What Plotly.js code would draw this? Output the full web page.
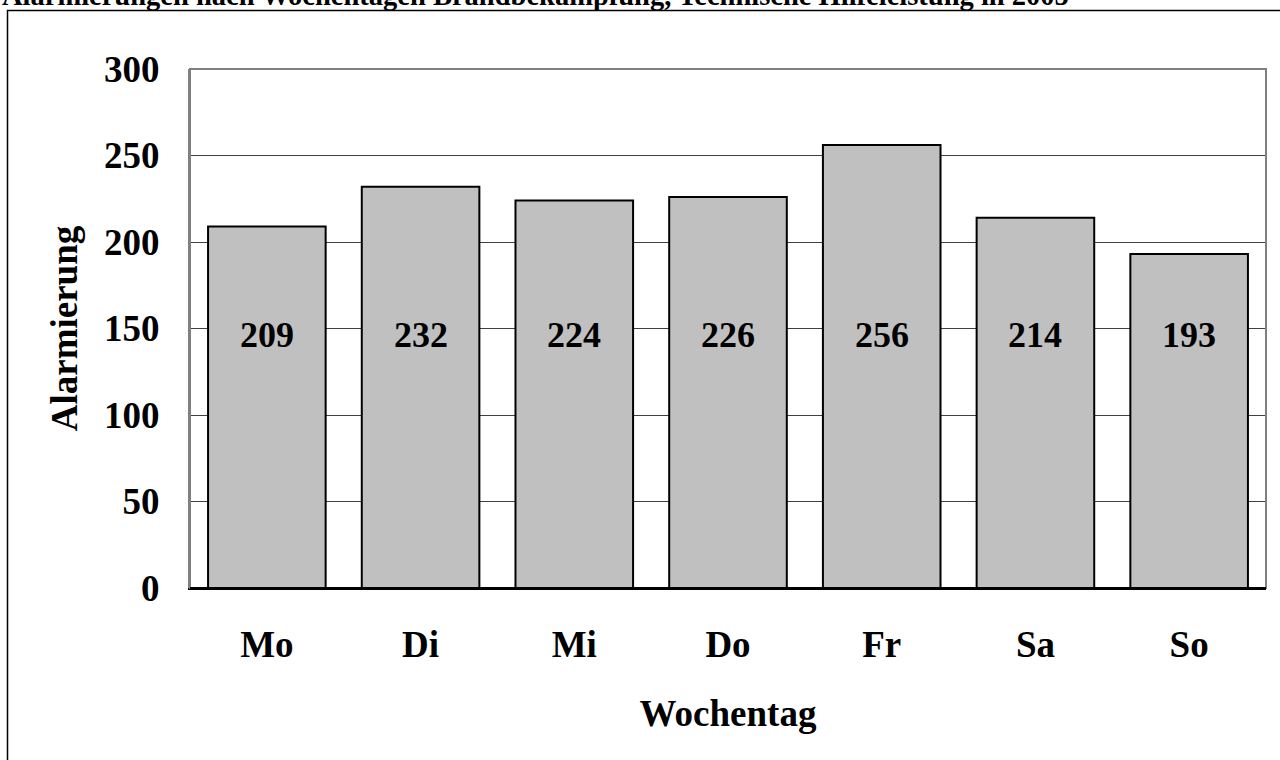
<!DOCTYPE html>
<html>
<head>
<meta charset="utf-8">
<script src="https://cdn.plot.ly/plotly-3.0.1.min.js"></script>
<style>
html,body{margin:0;padding:0;background:#fff;}
#chart{width:1280px;height:760px;}
</style>
</head>
<body>
<div id="chart"></div>
<script>
var days = ["Mo", "Di", "Mi", "Do", "Fr", "Sa", "So"];
var alarms = [209, 232, 224, 226, 256, 214, 193];
var yTicks = [0, 50, 100, 150, 200, 250, 300];
var chartTitle = "Alarmierungen nach Wochentagen Brandbekämpfung, Technische Hilfeleistung in 2005";
var xTitle = "Wochentag";
var yTitle = "Alarmierung";

var FONT = "'Liberation Serif', 'Times New Roman', serif";

var L = 190, R = 14, T = 69, B = 172, W = 1280, H = 760;
var pw = W - L - R, ph = H - T - B;
function px2x(p) { return (p - L) / pw; }
function py2y(p) { return (H - B - p) / ph; }

var trace = {
  type: "bar",
  x: days,
  y: alarms,
  marker: { color: "#C0C0C0", line: { color: "#000000", width: 2 } },
  hoverinfo: "x+y"
};

var annotations = days.map(function (d, i) {
  return {
    x: d, y: 146, xref: "x", yref: "y",
    text: "<b>" + alarms[i] + "</b>",
    showarrow: false,
    font: { family: FONT, size: 36, color: "#000" },
    xanchor: "center", yanchor: "middle"
  };
});
annotations.push({
  xref: "paper", yref: "paper",
  x: px2x(0), y: py2y(13),
  xanchor: "left", yanchor: "bottom",
  text: "<b>" + chartTitle + "</b>",
  showarrow: false,
  font: { family: FONT, size: 28.5, color: "#000" }
});

var layout = {
  width: W, height: H,
  margin: { l: L, r: R, t: T, b: B, pad: 0 },
  paper_bgcolor: "#ffffff",
  plot_bgcolor: "#ffffff",
  showlegend: false,
  bargap: 0.235,
  font: { family: FONT, color: "#000" },
  xaxis: {
    type: "category",
    showline: true, linecolor: "#000", linewidth: 2,
    ticks: "", ticklabelstandoff: 23,
    tickfont: { family: FONT, size: 37, color: "#000", weight: "bold" },
    title: { text: "<b>" + xTitle + "</b>", font: { family: FONT, size: 37, color: "#000" }, standoff: 36 },
    fixedrange: true
  },
  yaxis: {
    range: [0, 300],
    tickvals: yTicks,
    ticktext: yTicks.map(function (v) { return "<b>" + v + "</b>"; }),
    showgrid: true, gridcolor: "#404040", gridwidth: 1,
    showline: true, linecolor: "#808080", linewidth: 2,
    zeroline: false,
    ticks: "", ticklabelstandoff: 21,
    tickfont: { family: FONT, size: 37, color: "#000" },
    title: { text: "<b>" + yTitle + "</b>", font: { family: FONT, size: 37, color: "#000" }, standoff: 15 },
    fixedrange: true
  },
  shapes: [
    {
      type: "rect", xref: "paper", yref: "paper",
      x0: 0, x1: 1, y0: 0, y1: 1,
      line: { color: "#808080", width: 2 }, fillcolor: "rgba(0,0,0,0)", layer: "above"
    },
    {
      type: "line", xref: "paper", yref: "paper",
      x0: 0, x1: 1, y0: 0, y1: 0,
      line: { color: "#000", width: 2 }, layer: "above"
    },
    {
      type: "rect", xref: "paper", yref: "paper",
      x0: px2x(7.5), x1: px2x(1300), y0: py2y(800), y1: py2y(10.5),
      line: { color: "#000", width: 1.5 }, fillcolor: "rgba(0,0,0,0)", layer: "above"
    }
  ],
  annotations: annotations
};

Plotly.newPlot("chart", [trace], layout, { displayModeBar: false, staticPlot: true });
</script>
</body>
</html>
